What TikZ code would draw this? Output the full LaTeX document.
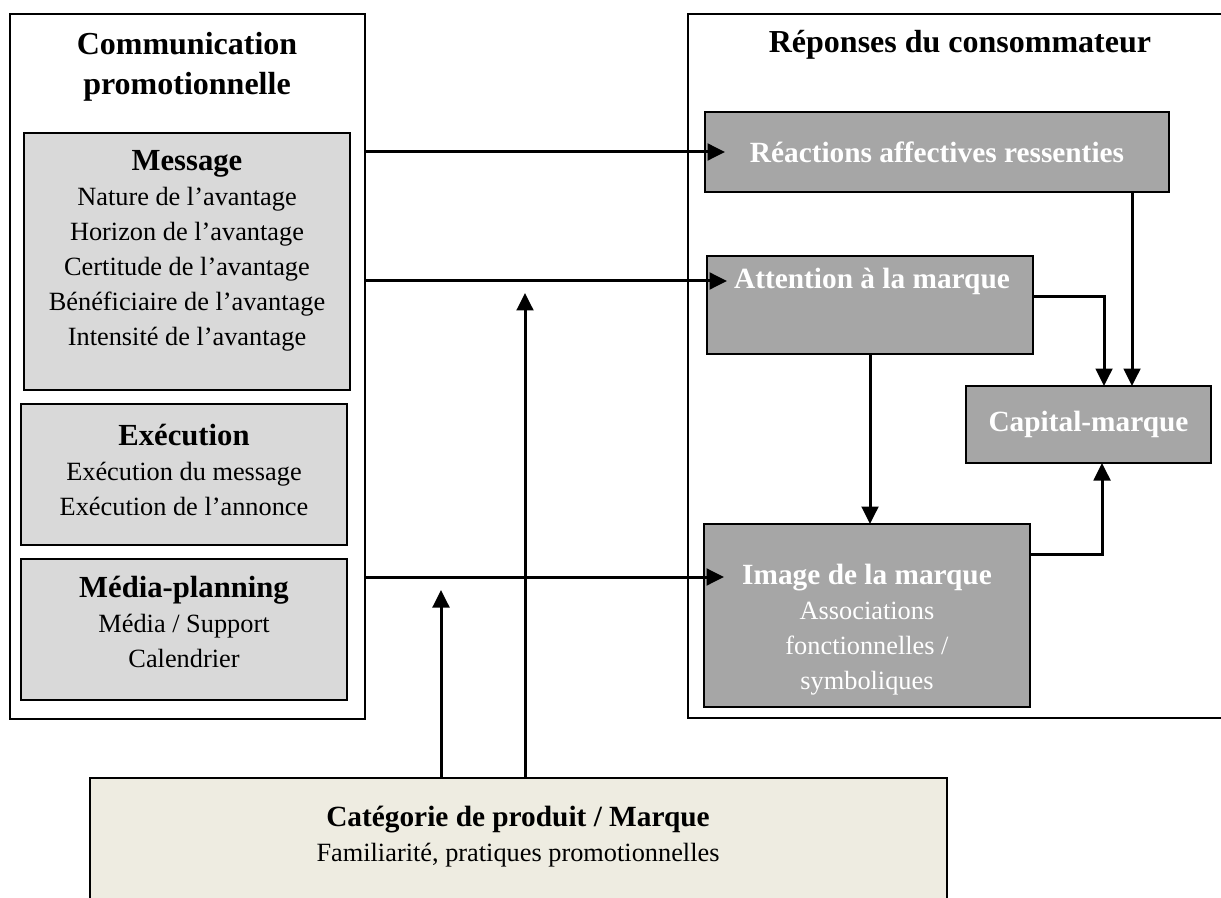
\documentclass[tikz,border=0pt]{standalone}
\usepackage{fontspec}
\setmainfont{Liberation Serif}
\usetikzlibrary{arrows.meta,positioning,calc}
\definecolor{lightgrey}{HTML}{D9D9D9}
\definecolor{midgrey}{HTML}{A6A6A6}
\definecolor{beige}{HTML}{EEECE1}
\newcommand{\ttl}{\fontsize{18.4}{21}\selectfont\bfseries}
\newcommand{\rttl}{\fontsize{17.6}{21}\selectfont\bfseries}
\newcommand{\bdy}{\fontsize{15.8}{21}\selectfont}
\tikzset{>={Triangle[length=10.5pt,width=10pt]},
	frame/.style={% outer frames of the two columns
		draw, rectangle,
		line width=0.9pt,
		outer sep=0pt
	},
	lbox/.style={
		draw, rectangle, fill=lightgrey,
		line width=1.2pt,
		outer sep=0pt
	},
	rbox/.style={
		draw, rectangle, fill=midgrey,
		line width=1.2pt,
		outer sep=0pt,
		text=white, font=\rttl
	},
	txt/.style={align=center, inner sep=0pt, font=\bdy},
	link/.style={->, line width=1.8pt},
	linkin/.style={link, shorten >=-12pt}
}
\begin{document}
\begin{tikzpicture}[x=0.6pt, y=-0.6pt]
	\useasboundingbox (0,0) rectangle (1221,898);
	\clip (0,0) rectangle (1221,898);
	% left column
	\node [frame, minimum width=213pt, minimum height=423pt] (cp) at (187.5,366.5) {};
	\node [txt, font=\fontsize{19.2}{24}\selectfont\bfseries] (cpt) at (187,67) {Communication\\promotionnelle};
	\node [lbox, minimum width=195.6pt, minimum height=154.2pt] (msg) at (187,261.5) {};
	\node [txt] (msgt) at (187,251) {{\ttl Message}\\Nature de l’avantage\\Horizon de l’avantage\\Certitude de l’avantage\\Bénéficiaire de l’avantage\\Intensité de l’avantage};
	\node [lbox, minimum width=195.6pt, minimum height=84.6pt] (exe) at (184,474.5) {};
	\node [txt] (exet) at (184,470) {{\ttl Exécution}\\Exécution du message\\Exécution de l’annonce};
	\node [lbox, minimum width=195.6pt, minimum height=84.6pt] (med) at (184,629.5) {};
	\node [txt] (medt) at (184,622) {{\ttl Média-planning}\\Média / Support\\Calendrier};
	% right column
	\node [frame, minimum width=331.2pt, minimum height=422.4pt] (rep) at (964,366) {};
	\node [txt, font=\fontsize{19.2}{24}\selectfont\bfseries] (rept) at (960,45) {Réponses du consommateur};
	\node [rbox, minimum width=278.4pt, minimum height=48pt] (rc) at (937,152) {Réactions affectives ressenties};
	\node [rbox, minimum width=195.6pt, minimum height=58.8pt] (att) at (870,305) {};
	\node [txt, font=\rttl, text=white] (attt) at (872,281) {Attention à la marque};
	\node [rbox, minimum width=147pt, minimum height=46.2pt] (cap) at (1088.5,424.5) {Capital-marque};
	\node [rbox, minimum width=195.6pt, minimum height=109.8pt] (img) at (867,615.5) {};
	\node [txt, text=white] (imgt) at (867,630) {{\rttl Image de la marque}\\Associations\\fonctionnelles /\\symboliques};
	% bottom
	\node [draw, rectangle, fill=beige, line width=1.2pt, outer sep=0pt, minimum width=514.2pt, minimum height=85.2pt] (cat) at (518.5,849) {};
	\node [txt] (catt) at (518,837) {{\rttl Catégorie de produit / Marque}\\Familiarité, pratiques promotionnelles};
	% connectors
	\coordinate (imgin) at (704,577);
	\coordinate (p1) at (441,590);
	\coordinate (p2) at (525,293);
	\coordinate (c1) at (1104,297);
	\coordinate (c2) at (1132,386);
	\coordinate (c3) at (1102,554);
	\draw [linkin] (cp.east |- rc.west) -- (rc.west);
	\draw [linkin] (cp.east |- attt) -- (att.west |- attt);
	\draw [linkin] (cp.east |- imgin) -- (imgin);
	\draw [link] (cat.north -| p1) -- (p1);
	\draw [link] (cat.north -| p2) -- (p2);
	\draw [link] (rc.south -| c2) -- (c2);
	\draw [link] (att.east |- c1) -| (cap.north -| c1);
	\draw [link] (att.south) -- (att.south |- img.north);
	\draw [link] (img.east |- c3) -| (cap.south -| c3);
\end{tikzpicture}
\end{document}
